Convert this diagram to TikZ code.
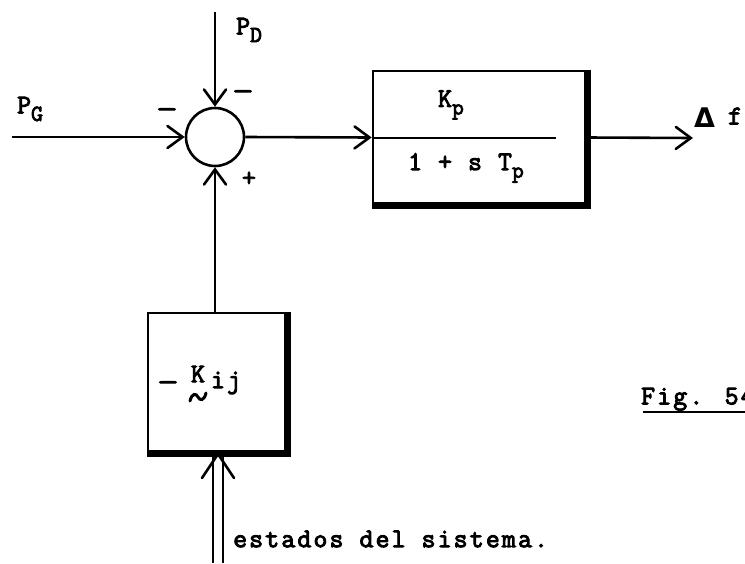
\documentclass[tikz,border=0pt]{standalone}
\usepackage{fontspec}
\newfontfamily\tw{Latin Modern Mono}[FakeBold=3.5,LetterSpace=8]
\newfontfamily\dvb{DejaVu Sans Bold}
\usetikzlibrary{arrows.meta}
\newcommand{\sbs}[1]{\raisebox{-0.28em}{\fontsize{23}{23}\selectfont #1}}
\newcommand{\wdash}{\scalebox{1.5}[1]{–}}
\begin{document}
\begin{tikzpicture}[x=1pt,y=-1pt,
  ln/.style={line width=2.6pt},
  arr/.style={ln,-{Straight Barb[length=15pt,width=22pt,line cap=round]}},
  txt/.style={inner sep=0pt,font=\tw\fontsize{27}{27}\selectfont},
  blk/.style={draw,line width=2.6pt,inner sep=0pt,minimum width=213pt,minimum height=133pt},
  shadowline/.style={line width=7.5pt,line join=miter}]
\useasboundingbox (0,0) rectangle (745,563);
\clip (0,0) rectangle (745,563);
\fill[white] (0,0) rectangle (745,563);
% summing junction
\node[draw,ln,circle,minimum size=58pt,inner sep=0pt] (sum) at (215,137) {};
\coordinate (pd) at (215,12);
\coordinate (pg) at (12,137);
\draw[arr] (pd) -- (sum.north);
\draw[arr] (pg) -- (sum.west);
\node[txt,anchor=west] (pdl) at (236,30) {P\sbs{D}};
\node[txt,anchor=west] (pgl) at (17,109) {P\sbs{G}};
\node[txt] (m1) at (167,113) {\wdash};
\node[txt] (m2) at (243,95) {\wdash};
\node[txt] (pl) at (249,179) {+};
% plant block
\node[blk] (b1) at (479.5,137.5) {};
\draw[shadowline] (b1.north east) -- (b1.south east) -- (b1.south west);
\draw[ln] (373,138) -- (556,138);
\node[txt] (kp) at (451,105) {K\sbs{p}};
\node[txt] (den) at (466,168) {1 + s T\sbs{p}};
\draw[arr] (sum.east) -- (b1.west);
\coordinate (df) at (693,138);
\draw[arr] (b1.east) -- (df);
\node[inner sep=0pt,anchor=west,font=\dvb\fontsize{27}{27}\selectfont] (delta) at (694,118) {Δ};
\node[txt] (fl) at (735,116) {f};
% feedback block
\node[draw,line width=2.6pt,inner sep=0pt,minimum width=138pt,minimum height=139pt] (b2) at (217,382.5) {};
\draw[shadowline] (b2.north east) -- (b2.south east) -- (b2.south west);
\draw[arr] (b2.north -| sum.south) -- (sum.south);
\node[txt] (mk) at (168,386) {\wdash};
\node[txt] (kk) at (198,374) {K};
\draw[line width=3pt,line cap=round] (190,401) .. controls (192,393) and (196,393) .. (198,397) .. controls (200,401) and (204,401) .. (206,393);
\node[txt] (ij) at (226,383) {ij};
% double input arrow
\coordinate (src) at (218,563);
\draw[ln] ([xshift=-5pt]src) -- ([xshift=-5pt]b2.south -| src);
\draw[ln] ([xshift=5pt]src) -- ([xshift=5pt]b2.south -| src);
\draw[ln,line cap=round,line join=miter] (202,478) -- (218,454) -- (234,478);
\node[txt,anchor=west] (est) at (233,539) {estados del sistema.};
% figure caption
\node[txt,anchor=west] (fig) at (641,399) {Fig. 54};
\draw[line width=2pt] (643,412) -- (745,412);
\end{tikzpicture}
\end{document}
